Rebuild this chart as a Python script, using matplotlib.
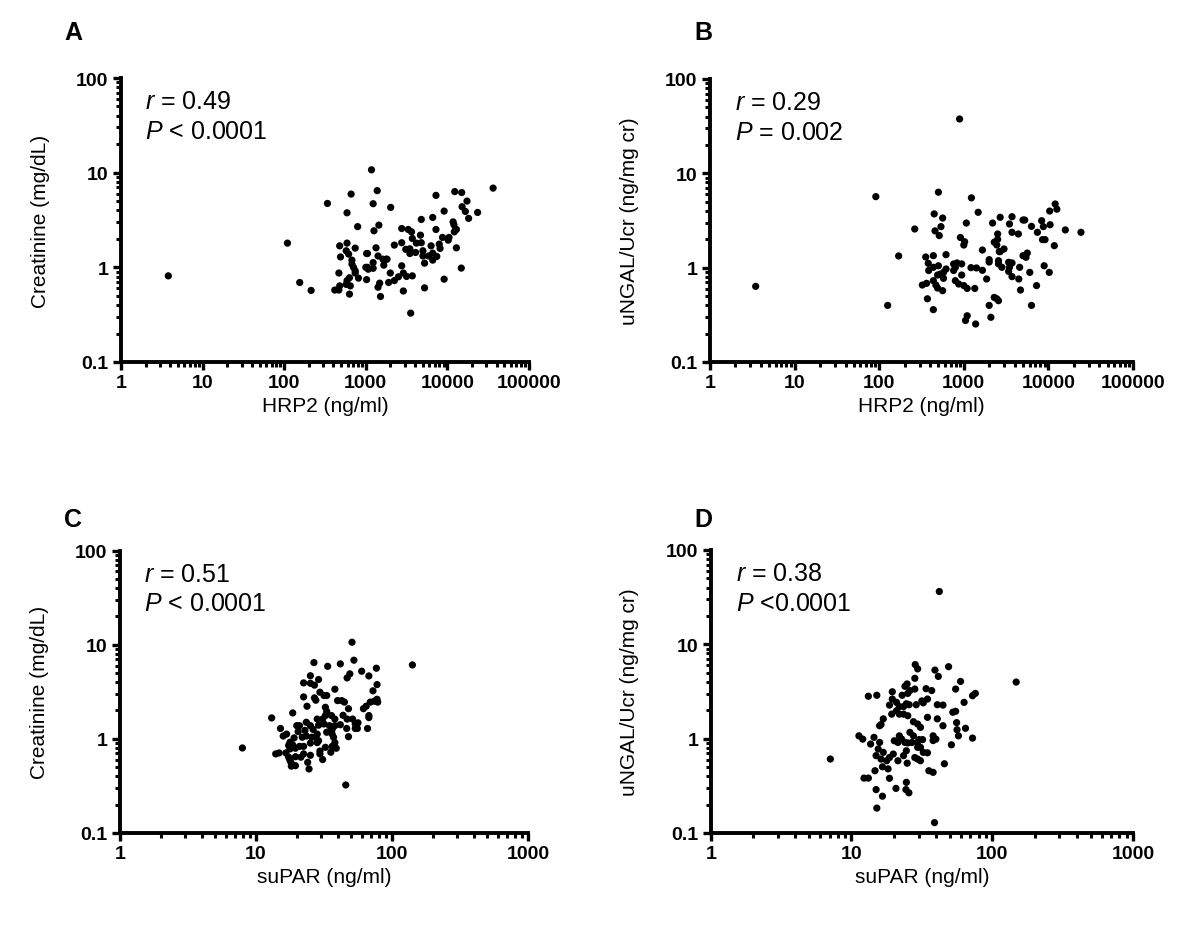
import numpy as np
import matplotlib
matplotlib.use("Agg")
import matplotlib.pyplot as plt
from matplotlib.ticker import LogLocator, FixedLocator, NullFormatter

plt.rcParams['font.family'] = ['Liberation Sans', 'DejaVu Sans']
plt.rcParams['mathtext.fontset'] = 'custom'
plt.rcParams['mathtext.it'] = 'Liberation Sans:italic'
plt.rcParams['mathtext.rm'] = 'Liberation Sans'

# ---------------- data (log10 values) ----------------
# Panel A: HRP2 vs Creatinine
a_logx = [0.58, 2.04, 2.19, 2.33, 2.53, 3.07, 2.82, 3.14, 2.77, 3.09, 3.305, 2.90, 3.16, 3.10,
          2.68, 2.77, 2.87, 2.76, 2.79, 2.69, 2.83, 2.83, 2.85, 2.87, 2.87, 2.91, 2.67, 2.77,
          2.80, 2.76, 2.81, 2.68, 2.62, 2.67, 2.80, 3.01, 3.00, 3.02, 3.03, 3.09, 3.01, 3.02,
          3.125, 3.09, 3.15, 3.15, 3.17, 3.18, 3.21, 3.25, 3.26, 3.22, 3.28, 3.30, 3.35, 3.35,
          3.40, 3.44, 3.44, 3.44, 3.46, 3.46, 3.50, 3.49, 3.52, 3.54, 3.54, 3.55, 3.57, 3.56,
          3.57, 3.61, 3.62, 3.67, 3.68, 3.68, 3.70, 3.70, 3.72, 3.72, 3.77, 3.80, 3.82, 3.82,
          3.82, 3.86, 3.86, 3.87, 3.90, 3.91, 3.94, 3.96, 3.96, 4.01, 4.02, 4.07, 4.08, 4.085,
          4.10, 4.11, 4.11, 4.09, 4.175, 4.17, 4.18, 4.24, 4.22, 4.26, 4.37, 4.56]
a_logy = [-0.09, 0.256, -0.16, -0.244, 0.675, 1.03, 0.774, 0.81, 0.576, 0.672, 0.633, 0.43, 0.446, 0.386,
          0.227, 0.256, 0.203, 0.175, 0.14, 0.11, 0.076, 0.034, -0.001, -0.037, -0.06, -0.114, -0.06, -0.14,
          -0.11, -0.18, -0.196, -0.196, -0.24, -0.24, -0.283, -0.13, 0.0, 0.0, -0.02, -0.01, 0.146, 0.146,
          0.206, 0.05, 0.12, -0.21, -0.167, -0.308, 0.086, 0.086, 0.086, 0.023, -0.16, -0.06, -0.14, 0.235,
          -0.10, 0.016, 0.41, 0.26, -0.25, -0.06, -0.096, 0.19, 0.40, 0.146, 0.196, -0.484, -0.09, 0.375,
          0.305, 0.157, 0.256, 0.34, 0.506, 0.26, 0.12, 0.175, 0.044, -0.217, 0.12, 0.227, 0.15, 0.527,
          0.076, 0.40, 0.76, 0.115, 0.245, 0.20, 0.316, 0.594, -0.125, 0.287, 0.316, 0.48, 0.45, 0.375,
          0.40, 0.40, 0.206, 0.80, 0.79, -0.008, 0.64, 0.70, 0.59, 0.517, 0.58, 0.837]

# Panel B: HRP2 vs uNGAL/Ucr
b_logx = [2.95, 0.54, 1.96, 2.23, 2.10, 2.42, 2.70, 2.65, 2.75, 2.73, 2.66, 2.71, 2.55, 2.64, 2.79,
          2.58, 2.64, 2.70, 2.585, 2.79, 2.69, 2.72, 2.76, 2.76, 2.64, 2.51, 2.56, 2.67, 2.69, 2.75,
          2.57, 2.64, 2.88, 2.92, 2.975, 2.90, 2.88, 2.975, 2.90, 2.94, 3.00, 3.04, 3.13, 3.03, 3.09,
          3.17, 2.96, 3.01, 3.00, 3.085, 3.15, 3.22, 3.22, 3.27, 3.30, 3.32, 3.04, 3.02, 3.14, 3.30,
          3.30, 3.34, 3.36, 3.40, 3.40, 3.39, 3.43, 3.42, 3.43, 3.475, 3.41, 3.41, 3.45, 3.36, 3.39,
          3.41, 3.54, 3.57, 3.57, 3.645, 3.53, 3.57, 3.54, 3.53, 3.57, 3.66, 3.65, 3.67, 3.70, 3.72,
          3.70, 3.735, 3.75, 3.78, 3.80, 3.87, 3.86, 3.80, 3.92, 3.94, 3.93, 3.96, 3.95, 4.02, 4.015,
          4.07, 4.01, 4.08, 4.10, 4.20, 4.385]
b_logy = [1.576, -0.198, 0.753, 0.124, -0.40, 0.41, 0.80, 0.57, 0.526, 0.435, 0.39, 0.34, 0.113, 0.127, 0.138,
          0.046, 0.004, 0.02, -0.03, -0.014, -0.078, -0.07, -0.05, -0.113, -0.138, -0.184, -0.166, -0.184, -0.216, -0.244,
          -0.33, -0.445, 0.039, 0.05, 0.04, 0.004, -0.03, -0.078, -0.138, -0.173, -0.19, -0.22, -0.22, 0.473, 0.74,
          0.587, 0.32, 0.275, 0.24, 0.0, -0.003, -0.028, 0.187, -0.12, -0.40, -0.526, -0.51, -0.56, -0.597, 0.085,
          0.06, 0.473, 0.27, 0.30, 0.357, 0.24, 0.534, 0.17, 0.17, 0.198, 0.074, 0.04, 0.004, -0.315, -0.33,
          -0.35, 0.463, 0.54, 0.375, 0.357, 0.057, 0.05, 0.004, -0.04, -0.095, 0.004, -0.12, -0.237, 0.505, 0.505,
          0.127, 0.11, 0.155, -0.05, 0.438, 0.375, -0.19, -0.40, 0.498, 0.435, 0.297, 0.297, 0.02, 0.455, 0.60,
          0.233, -0.05, 0.675, 0.62, 0.40, 0.375]

# Panel C: suPAR vs Creatinine
c_logx = [0.90, 1.66, 1.706, 1.426, 1.527, 1.62, 1.72, 1.777, 1.83, 1.67, 1.69, 1.40, 1.35, 1.40, 1.43,
          1.46, 1.86, 1.89, 1.58, 1.47, 1.50, 1.52, 1.43, 1.35, 1.44, 1.60, 1.63, 1.65, 1.84, 1.81,
          1.79, 1.895, 1.375, 1.51, 1.68, 1.52, 1.51, 1.555, 1.27, 1.115, 1.83, 1.83, 1.67, 1.71, 1.64,
          1.58, 1.49, 1.45, 1.73, 1.667, 1.745, 1.82, 1.18, 1.30, 1.32, 1.37, 1.40, 1.31, 1.36, 1.42,
          1.46, 1.50, 1.54, 1.56, 1.58, 1.62, 1.52, 1.56, 1.57, 1.45, 1.44, 1.46, 1.41, 1.37, 1.34,
          1.28, 1.225, 1.20, 1.25, 1.27, 1.24, 1.25, 1.29, 1.32, 1.35, 1.40, 1.45, 1.51, 1.56, 1.58,
          1.59, 1.55, 1.68, 1.145, 1.17, 1.22, 1.24, 1.29, 1.25, 1.26, 1.29, 1.26, 1.33, 1.35, 1.40,
          1.38, 1.39, 1.47, 1.49, 1.73, 1.47, 1.75, 1.885, 1.87, 1.89, 2.15]
c_logy = [-0.097, -0.49, 1.026, 0.81, 0.77, 0.796, 0.835, 0.718, 0.668, 0.647, 0.69, 0.67, 0.594, 0.59, 0.57,
          0.63, 0.51, 0.576, 0.527, 0.495, 0.46, 0.46, 0.435, 0.445, 0.41, 0.406, 0.406, 0.39, 0.39, 0.346,
          0.32, 0.39, 0.346, 0.335, 0.32, 0.29, 0.247, 0.247, 0.275, 0.222, 0.247, 0.226, 0.21, 0.21, 0.25,
          0.21, 0.21, 0.21, 0.158, 0.11, 0.11, 0.11, 0.11, 0.14, 0.14, 0.176, 0.14, 0.077, 0.09, 0.10,
          0.145, 0.158, 0.14, 0.10, 0.14, 0.15, 0.07, 0.05, 0.017, 0.05, 0.017, -0.02, 0.017, 0.03, 0.017,
          0.01, 0.05, 0.03, -0.036, -0.065, -0.07, -0.107, -0.10, -0.08, -0.08, -0.045, -0.04, -0.09, -0.08, -0.04,
          -0.10, -0.142, 0.023, -0.16, -0.15, -0.15, -0.195, -0.19, -0.23, -0.26, -0.285, -0.29, -0.195, -0.16, -0.175,
          -0.25, -0.32, -0.16, -0.22, 0.11, -0.13, 0.17, 0.75, 0.40, 0.42, 0.785]

# Panel D: suPAR vs uNGAL/Ucr
d_logx = [1.624, 0.85, 1.59, 1.18, 1.22, 1.175, 1.316, 1.387, 1.408, 1.39, 1.089, 1.12, 1.27, 1.167, 1.22,
          1.26, 1.55, 1.58, 1.66, 1.053, 1.08, 1.136, 1.16, 1.20, 1.175, 1.19, 1.226, 1.21, 1.25, 1.27,
          1.297, 1.33, 1.37, 1.396, 1.39, 1.304, 1.33, 1.356, 1.34, 1.38, 1.415, 1.40, 1.43, 1.47, 1.44,
          1.48, 1.505, 1.45, 1.47, 1.49, 1.51, 1.54, 1.47, 1.49, 1.58, 1.60, 1.58, 1.65, 1.71, 1.747,
          1.75, 1.76, 1.81, 1.86, 1.20, 1.21, 1.226, 1.286, 1.32, 1.34, 1.37, 1.40, 1.44, 1.47, 1.49,
          1.54, 1.61, 1.27, 1.29, 1.32, 1.34, 1.37, 1.39, 1.41, 1.46, 1.50, 1.51, 1.54, 1.61, 1.65,
          1.12, 1.18, 1.29, 1.36, 1.40, 1.415, 1.45, 1.38, 1.395, 1.53, 1.57, 1.45, 1.453, 1.47, 1.593,
          1.617, 1.69, 1.74, 1.775, 1.80, 1.72, 1.74, 1.86, 1.88, 2.17]
d_logy = [1.56, -0.216, -0.89, -0.736, -0.61, -0.54, -0.527, -0.54, -0.574, -0.463, -0.418, -0.418, -0.42, -0.34, -0.298,
          -0.32, -0.34, -0.357, -0.266, 0.03, -0.005, -0.057, 0.014, -0.04, -0.18, -0.11, -0.145, -0.216, -0.234, -0.2,
          -0.163, -0.234, -0.18, -0.26, -0.128, -0.022, -0.04, -0.004, 0.03, -0.04, 0.067, -0.045, -0.04, -0.04, 0.03,
          -0.01, -0.01, -0.2, -0.216, -0.234, -0.145, -0.15, -0.092, -0.092, 0.03, -0.005, -0.02, 0.137, -0.065, 0.17,
          0.095, 0.03, 0.11, 0.006, 0.137, 0.15, 0.21, 0.26, 0.296, 0.26, 0.26, 0.243, 0.18, 0.155, 0.12,
          0.226, 0.21, 0.356, 0.42, 0.385, 0.34, 0.34, 0.37, 0.36, 0.36, 0.40, 0.38, 0.42, 0.36, 0.356,
          0.45, 0.46, 0.497, 0.46, 0.48, 0.51, 0.526, 0.555, 0.58, 0.53, 0.51, 0.64, 0.785, 0.74, 0.727,
          0.66, 0.763, 0.526, 0.607, 0.385, 0.28, 0.29, 0.455, 0.48, 0.60]

panel_letters = ['A', 'B', 'C', 'D']
x_labels = ['HRP2 (ng/ml)', 'HRP2 (ng/ml)', 'suPAR (ng/ml)', 'suPAR (ng/ml)']
y_labels = ['Creatinine (mg/dL)', 'uNGAL/Ucr (ng/mg cr)', 'Creatinine (mg/dL)', 'uNGAL/Ucr (ng/mg cr)']
r_texts = ['$r$ = 0.49', '$r$ = 0.29', '$r$ = 0.51', '$r$ = 0.38']
p_texts = ['$P$ < 0.0001', '$P$ = 0.002', '$P$ < 0.0001', '$P$ <0.0001']
x_limits = [(1, 100000), (1, 100000), (1, 1000), (1, 1000)]
y_limits = (0.1, 100)
x_ticks_hrp = [1, 10, 100, 1000, 10000, 100000]
x_ticks_supar = [1, 10, 100, 1000]
y_ticks = [0.1, 1, 10, 100]

data = [(a_logx, a_logy), (b_logx, b_logy), (c_logx, c_logy), (d_logx, d_logy)]

fig = plt.figure(figsize=(12, 9.29), dpi=100)
rects = [
    [121/1200, 1 - 363/929, 408/1200, 284/929],
    [710/1200, 1 - 363/929, 423/1200, 283/929],
    [120/1200, 1 - 834/929, 408/1200, 282.5/929],
    [710.7/1200, 1 - 834/929, 422.3/1200, 283/929],
]
letter_pos = [(0.061, 0.965), (0.586, 0.965), (0.061, 0.440), (0.586, 0.440)]

for i, rect in enumerate(rects):
    ax = fig.add_axes(rect)
    lx, ly = data[i]
    ax.scatter(10 ** np.array(lx), 10 ** np.array(ly), s=27, color='black',
               edgecolors='none', zorder=3, clip_on=False)
    ax.set_xscale('log')
    ax.set_yscale('log')
    ax.set_xlim(*x_limits[i])
    ax.set_ylim(*y_limits)
    for s in ['top', 'right']:
        ax.spines[s].set_visible(False)
    for s in ['left', 'bottom']:
        ax.spines[s].set_linewidth(2.8)
        ax.spines[s].set_color('black')
    xt = x_ticks_hrp if i < 2 else x_ticks_supar
    ax.xaxis.set_major_locator(FixedLocator(xt))
    ax.set_xticklabels([str(t) for t in xt])
    ax.yaxis.set_major_locator(FixedLocator(y_ticks))
    ax.set_yticklabels(['0.1', '1', '10', '100'])
    ax.xaxis.set_minor_locator(LogLocator(base=10, subs=np.arange(2, 10)))
    ax.yaxis.set_minor_locator(LogLocator(base=10, subs=np.arange(2, 10)))
    ax.xaxis.set_minor_formatter(NullFormatter())
    ax.yaxis.set_minor_formatter(NullFormatter())
    ax.tick_params(which='major', direction='out', length=6, width=2.4, pad=3)
    ax.tick_params(which='minor', direction='out', length=3.5, width=2.2)
    for lab in ax.get_xticklabels() + ax.get_yticklabels():
        lab.set_fontweight('bold')
        lab.set_fontsize(14)
    ax.set_xlabel(x_labels[i], fontsize=15, labelpad=3)
    ax.set_ylabel(y_labels[i], fontsize=15, labelpad=19)
    ax.text(0.06, 0.918, r_texts[i], transform=ax.transAxes, fontsize=18, va='center', ha='left')
    ax.text(0.06, 0.813, p_texts[i], transform=ax.transAxes, fontsize=18, va='center', ha='left')
    fig.text(letter_pos[i][0], letter_pos[i][1], panel_letters[i], fontsize=18,
             fontweight='bold', ha='center', va='center')

fig.savefig('out.png', dpi=100)
